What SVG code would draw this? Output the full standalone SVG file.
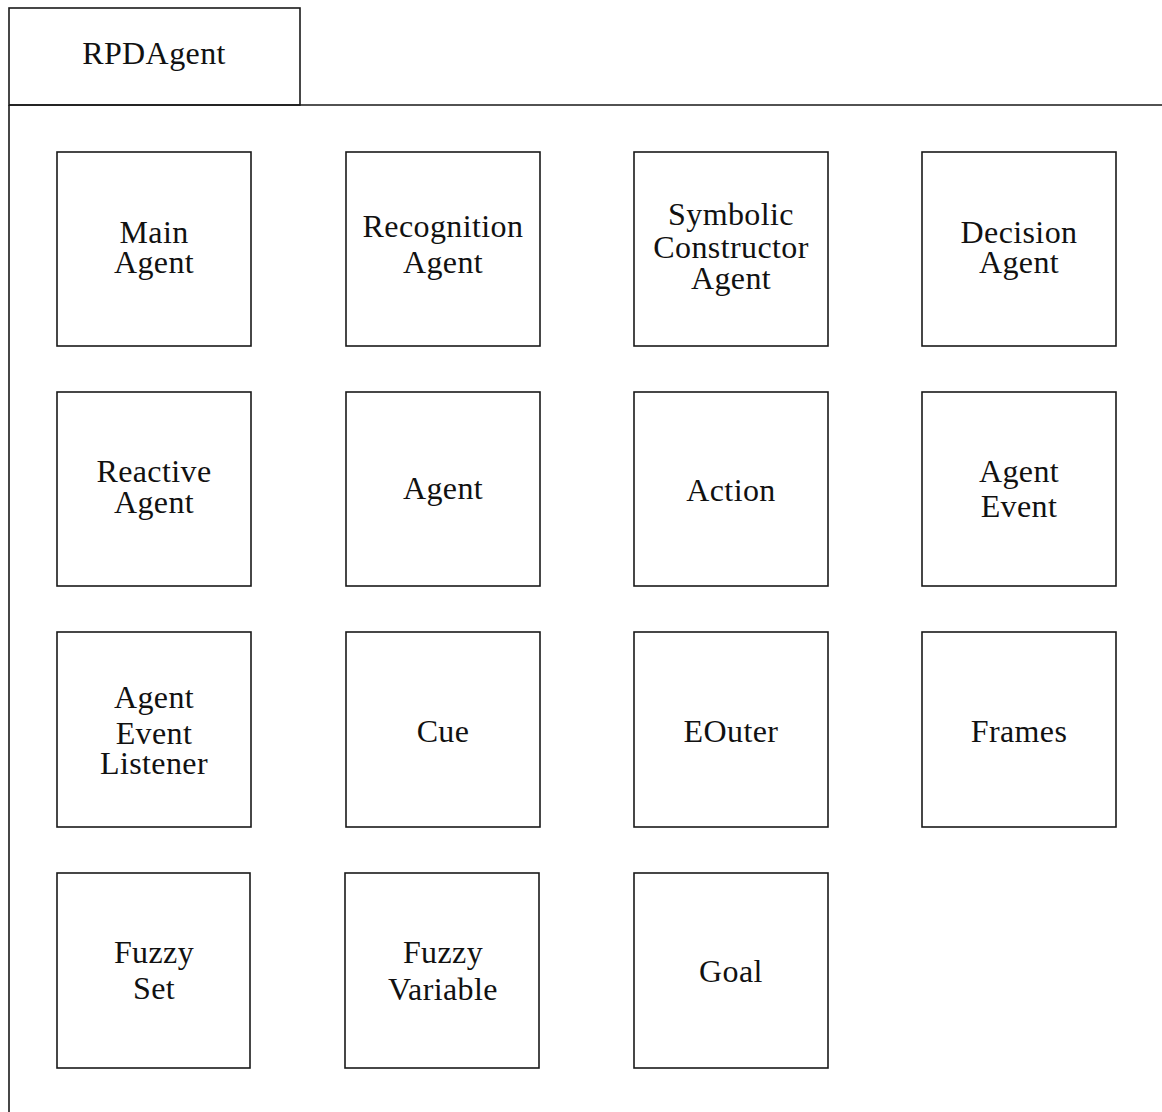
<svg xmlns="http://www.w3.org/2000/svg" width="1162" height="1112" viewBox="0 0 1162 1112">
  <style>
    .frame { fill: none; stroke: #1a1a1a; stroke-width: 1.6; }
    .box { fill: #ffffff; stroke: #1a1a1a; stroke-width: 1.6; }
    .lbl { font-family: "Liberation Serif", "Times New Roman", serif; font-size: 32px; fill: #111111; text-anchor: middle; letter-spacing: 0.4px; }
  </style>
  <rect width="1162" height="1112" fill="#ffffff"/>

  <!-- package frame: name tab plus body outline -->
  <g id="package">
    <rect class="frame" x="9" y="8" width="291" height="97"/>
    <path class="frame" d="M9 105 H1162 M9 105 V1112"/>
    <text class="lbl" x="154" y="64">RPDAgent</text>
  </g>

  <!-- row 1 -->
  <g id="main-agent">
    <rect class="box" x="57" y="152" width="194" height="194"/>
    <text class="lbl" x="154" y="243">Main</text>
    <text class="lbl" x="154" y="273">Agent</text>
  </g>
  <g id="recognition-agent">
    <rect class="box" x="346" y="152" width="194" height="194"/>
    <text class="lbl" x="443" y="237">Recognition</text>
    <text class="lbl" x="443" y="273">Agent</text>
  </g>
  <g id="symbolic-constructor-agent">
    <rect class="box" x="634" y="152" width="194" height="194"/>
    <text class="lbl" x="731" y="225">Symbolic</text>
    <text class="lbl" x="731" y="258">Constructor</text>
    <text class="lbl" x="731" y="289">Agent</text>
  </g>
  <g id="decision-agent">
    <rect class="box" x="922" y="152" width="194" height="194"/>
    <text class="lbl" x="1019" y="243">Decision</text>
    <text class="lbl" x="1019" y="273">Agent</text>
  </g>

  <!-- row 2 -->
  <g id="reactive-agent">
    <rect class="box" x="57" y="392" width="194" height="194"/>
    <text class="lbl" x="154" y="482">Reactive</text>
    <text class="lbl" x="154" y="513">Agent</text>
  </g>
  <g id="agent">
    <rect class="box" x="346" y="392" width="194" height="194"/>
    <text class="lbl" x="443" y="499">Agent</text>
  </g>
  <g id="action">
    <rect class="box" x="634" y="392" width="194" height="194"/>
    <text class="lbl" x="731" y="501">Action</text>
  </g>
  <g id="agent-event">
    <rect class="box" x="922" y="392" width="194" height="194"/>
    <text class="lbl" x="1019" y="482">Agent</text>
    <text class="lbl" x="1019" y="517">Event</text>
  </g>

  <!-- row 3 -->
  <g id="agent-event-listener">
    <rect class="box" x="57" y="632" width="194" height="195"/>
    <text class="lbl" x="154" y="708">Agent</text>
    <text class="lbl" x="154" y="744">Event</text>
    <text class="lbl" x="154" y="774">Listener</text>
  </g>
  <g id="cue">
    <rect class="box" x="346" y="632" width="194" height="195"/>
    <text class="lbl" x="443" y="742">Cue</text>
  </g>
  <g id="eouter">
    <rect class="box" x="634" y="632" width="194" height="195"/>
    <text class="lbl" x="731" y="742">EOuter</text>
  </g>
  <g id="frames">
    <rect class="box" x="922" y="632" width="194" height="195"/>
    <text class="lbl" x="1019" y="742">Frames</text>
  </g>

  <!-- row 4 -->
  <g id="fuzzy-set">
    <rect class="box" x="57" y="873" width="193" height="195"/>
    <text class="lbl" x="154" y="963">Fuzzy</text>
    <text class="lbl" x="154" y="999">Set</text>
  </g>
  <g id="fuzzy-variable">
    <rect class="box" x="345" y="873" width="194" height="195"/>
    <text class="lbl" x="443" y="963">Fuzzy</text>
    <text class="lbl" x="443" y="1000">Variable</text>
  </g>
  <g id="goal">
    <rect class="box" x="634" y="873" width="194" height="195"/>
    <text class="lbl" x="731" y="982">Goal</text>
  </g>

  <!-- no connectors in this package view -->
  <g id="connectors"/>
</svg>
